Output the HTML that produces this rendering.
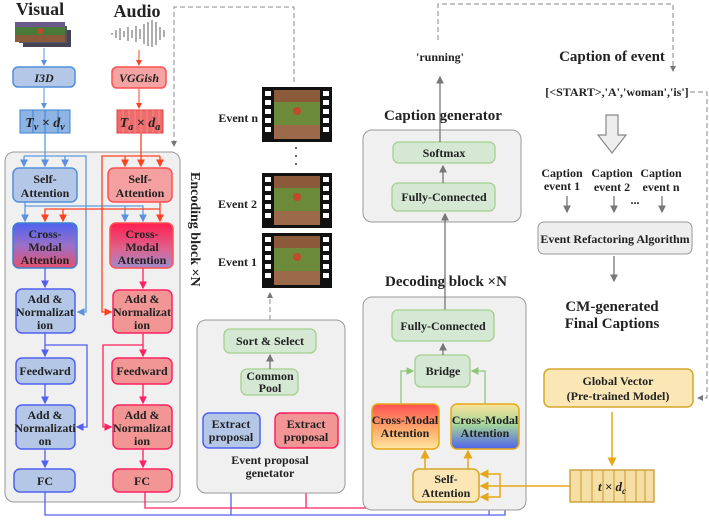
<!DOCTYPE html>
<html><head><meta charset="utf-8"><style>
body{margin:0;background:#fff}
svg text{font-family:"Liberation Serif",serif;font-weight:bold;fill:#222}
</style></head><body>
<svg width="709" height="518" viewBox="0 0 709 518" xmlns="http://www.w3.org/2000/svg">
<defs>
<linearGradient id="gL" x1="0" y1="0" x2="0" y2="1"><stop offset="0" stop-color="#4f63f0"/><stop offset="0.5" stop-color="#9a70c8"/><stop offset="1" stop-color="#e8506a"/></linearGradient>
<linearGradient id="gR" x1="0" y1="0" x2="0" y2="1"><stop offset="0" stop-color="#ff1e50"/><stop offset="0.55" stop-color="#e0608a"/><stop offset="1" stop-color="#a08ad0"/></linearGradient>
<linearGradient id="gD1" x1="0" y1="0" x2="0" y2="1"><stop offset="0" stop-color="#ff5050"/><stop offset="0.6" stop-color="#ffb070"/><stop offset="1" stop-color="#fde6a0"/></linearGradient>
<linearGradient id="gD2" x1="0" y1="0" x2="0" y2="1"><stop offset="0" stop-color="#fbe39a"/><stop offset="0.45" stop-color="#a6d79a"/><stop offset="1" stop-color="#4e63ea"/></linearGradient>
<marker id="aB" markerWidth="6" markerHeight="6" refX="5" refY="3" orient="auto"><path d="M0,0L6,3L0,6z" fill="#5b8fe0"/></marker>
<marker id="aV" markerWidth="6" markerHeight="6" refX="5" refY="3" orient="auto"><path d="M0,0L6,3L0,6z" fill="#5060f0"/></marker>
<marker id="aR" markerWidth="6" markerHeight="6" refX="5" refY="3" orient="auto"><path d="M0,0L6,3L0,6z" fill="#ff4020"/></marker>
<marker id="aP" markerWidth="6" markerHeight="6" refX="5" refY="3" orient="auto"><path d="M0,0L6,3L0,6z" fill="#ff2060"/></marker>
<marker id="aG" markerWidth="6" markerHeight="6" refX="5" refY="3" orient="auto"><path d="M0,0L6,3L0,6z" fill="#777"/></marker>
<marker id="aGr" markerWidth="6" markerHeight="6" refX="5" refY="3" orient="auto"><path d="M0,0L6,3L0,6z" fill="#8cc87a"/></marker>
<marker id="aY" markerWidth="6" markerHeight="6" refX="5" refY="3" orient="auto"><path d="M0,0L6,3L0,6z" fill="#e6a817"/></marker>
<g id="film">
<rect x="0" y="0" width="70" height="55" fill="#111"/>
<rect x="12" y="3" width="46" height="49" fill="#6b8a3a"/>
<rect x="12" y="3" width="46" height="12" fill="#8a5a3a"/>
<rect x="12" y="38" width="46" height="14" fill="#9a6a4a"/>
<circle cx="35" cy="24" r="4" fill="#c04a2a"/>
<g fill="#fff"><rect x="3" y="4" width="6" height="5"/><rect x="3" y="13" width="6" height="5"/><rect x="3" y="22" width="6" height="5"/><rect x="3" y="31" width="6" height="5"/><rect x="3" y="40" width="6" height="5"/>
<rect x="61" y="4" width="6" height="5"/><rect x="61" y="13" width="6" height="5"/><rect x="61" y="22" width="6" height="5"/><rect x="61" y="31" width="6" height="5"/><rect x="61" y="40" width="6" height="5"/></g>
</g>
</defs>

<path d="M294,82V7H174V146" fill="none" stroke="#888" stroke-dasharray="5,3" marker-end="url(#aG)"/>
<path d="M438,40V4H673V71" fill="none" stroke="#888" stroke-dasharray="5,3" marker-end="url(#aG)"/>
<path d="M690,92H707V398H698" fill="none" stroke="#888" stroke-dasharray="5,3" marker-end="url(#aG)"/>

<text x="40" y="15" font-size="18" text-anchor="middle">Visual</text>
<text x="137" y="17" font-size="18" text-anchor="middle">Audio</text>
<rect x="23" y="30" width="48" height="17" fill="#445"/>
<rect x="19" y="26" width="48" height="17" fill="#556"/>
<rect x="15" y="22" width="50" height="20" fill="#4a7a3a"/>
<rect x="15" y="22" width="50" height="5" fill="#6a5a8a"/>
<rect x="15" y="35" width="50" height="7" fill="#8a5a3a"/>
<circle cx="40" cy="31" r="3" fill="#c04a2a"/>
<g stroke="#777" stroke-width="1.2">
<path d="M112,33V35M116,30V38M120,28V40M124,31V37M128,27V41M132,30V38M136,26V42M140,29V39M144,24V44M148,22V46M152,20V47M156,22V45M160,27V40M164,30V37"/></g>

<rect x="5" y="152" width="175" height="350" rx="9" fill="#f0f0f0" stroke="#999"/>
<text transform="translate(191,172) rotate(90)" font-size="14">Encoding block ×N</text>

<g font-size="12" text-anchor="middle">
<rect x="13" y="67" width="62" height="20" rx="5" fill="#b4c7e7" stroke="#4f8fdc" stroke-width="1.5"/>
<text x="44" y="82" font-style="italic">I3D</text>
<rect x="112" y="67" width="54" height="21" rx="5" fill="#f6a3a3" stroke="#ff5050" stroke-width="1.5"/>
<text x="139" y="82" font-style="italic">VGGish</text>
<rect x="20" y="110" width="50" height="23" fill="#8db4e2" stroke="#3a80d0"/>
<path d="M33,110V133M45,110V133M58,110V133" stroke="#3a80d0"/>
<text x="45" y="127" font-size="14" font-style="italic">T<tspan font-size="10" dy="3">v</tspan><tspan dy="-3"> × d</tspan><tspan font-size="10" dy="3">v</tspan></text>
<rect x="117" y="110" width="46" height="23" fill="#ef6c6c" stroke="#e04040"/>
<path d="M123,110V133M129,110V133M135,110V133M141,110V133M147,110V133M153,110V133M159,110V133" stroke="#f08a8a"/>
<text x="140" y="127" font-size="14" font-style="italic">T<tspan font-size="10" dy="3">a</tspan><tspan dy="-3"> × d</tspan><tspan font-size="10" dy="3">a</tspan></text>
</g>
<path d="M44,48V65" stroke="#5b8fe0" marker-end="url(#aB)"/>
<path d="M44,88V108" stroke="#5b8fe0" marker-end="url(#aB)"/>
<path d="M139,50V65" stroke="#ff4020" marker-end="url(#aR)"/>
<path d="M139,89V108" stroke="#ff4020" marker-end="url(#aR)"/>

<g fill="none" stroke="#5b9be0" stroke-width="1.3">
<path d="M45,133V166" marker-end="url(#aB)"/>
<path d="M24,156H86V312H78" marker-end="url(#aB)"/>
<path d="M24,156V166" marker-end="url(#aB)"/>
<path d="M65,156V166" marker-end="url(#aB)"/>
<path d="M25,202V221" marker-end="url(#aB)"/>
<path d="M25,206H143V221" marker-end="url(#aB)"/>
<path d="M125,206V221" marker-end="url(#aB)"/>
</g>
<g fill="none" stroke="#ff4020" stroke-width="1.3">
<path d="M141,133V166" marker-end="url(#aR)"/>
<path d="M160,156H102V312H111" marker-end="url(#aR)"/>
<path d="M125,156V166" marker-end="url(#aR)"/>
<path d="M160,156V166" marker-end="url(#aR)"/>
<path d="M160,202V221" marker-end="url(#aR)"/>
<path d="M160,209H45V221" marker-end="url(#aR)"/>
<path d="M63,209V221" marker-end="url(#aR)"/>
</g>
<g fill="none" stroke="#5060f0" stroke-width="1.3">
<path d="M45,268V287" marker-end="url(#aV)"/>
<path d="M45,333V356" marker-end="url(#aV)"/>
<path d="M45,345H87V427H77" marker-end="url(#aV)"/>
<path d="M45,384V403" marker-end="url(#aV)"/>
<path d="M45,449V467" marker-end="url(#aV)"/>
<path d="M45,492V515H505V451" marker-end="url(#aV)"/>
<path d="M489,515V451" marker-end="url(#aV)"/>
<path d="M231,515V450" marker-end="url(#aV)"/>
<path d="M231,413V383H239" marker-end="url(#aV)"/>
</g>
<g fill="none" stroke="#ff2060" stroke-width="1.3">
<path d="M143,268V288" marker-end="url(#aP)"/>
<path d="M143,333V356" marker-end="url(#aP)"/>
<path d="M143,345H103V427H111" marker-end="url(#aP)"/>
<path d="M143,384V403" marker-end="url(#aP)"/>
<path d="M143,449V467" marker-end="url(#aP)"/>
<path d="M145,492V508H403V451" marker-end="url(#aP)"/>
<path d="M386,508V451" marker-end="url(#aP)"/>
<path d="M306,508V450" marker-end="url(#aP)"/>
<path d="M310,413V383H300" marker-end="url(#aP)"/>
</g>

<g font-size="12" text-anchor="middle">
<rect x="13" y="168" width="64" height="34" rx="6" fill="#b4c7e7" stroke="#4f8fdc" stroke-width="1.5"/>
<text x="45" y="183">Self-</text><text x="45" y="197">Attention</text>
<rect x="108" y="168" width="64" height="34" rx="6" fill="#f4a0a0" stroke="#ff5050" stroke-width="1.5"/>
<text x="140" y="183">Self-</text><text x="140" y="197">Attention</text>
<rect x="13" y="223" width="64" height="45" rx="6" fill="url(#gL)" stroke="#3a80d0" stroke-width="1.5"/>
<text x="45" y="238">Cross-</text><text x="45" y="251">Modal</text><text x="45" y="264">Attention</text>
<rect x="110" y="223" width="63" height="45" rx="6" fill="url(#gR)" stroke="#ff5050" stroke-width="1.5"/>
<text x="142" y="238">Cross-</text><text x="142" y="251">Modal</text><text x="142" y="264">Attention</text>
<rect x="16" y="289" width="59" height="44" rx="6" fill="#b4c7e7" stroke="#5060f0" stroke-width="1.5"/>
<text x="45" y="303">Add &amp;</text><text x="45" y="316">Normalizat</text><text x="45" y="329">ion</text>
<rect x="113" y="290" width="59" height="43" rx="6" fill="#f19595" stroke="#ff2060" stroke-width="1.5"/>
<text x="142" y="303">Add &amp;</text><text x="142" y="316">Normalizat</text><text x="142" y="329">ion</text>
<rect x="16" y="358" width="59" height="26" rx="6" fill="#b4c7e7" stroke="#5060f0" stroke-width="1.5"/>
<text x="45" y="375">Feedward</text>
<rect x="112" y="358" width="60" height="26" rx="6" fill="#f19595" stroke="#ff2060" stroke-width="1.5"/>
<text x="142" y="375">Feedward</text>
<rect x="16" y="405" width="59" height="44" rx="6" fill="#b4c7e7" stroke="#5060f0" stroke-width="1.5"/>
<text x="45" y="419">Add &amp;</text><text x="45" y="432">Normalizati</text><text x="45" y="445">on</text>
<rect x="113" y="405" width="59" height="44" rx="6" fill="#f19595" stroke="#ff2060" stroke-width="1.5"/>
<text x="142" y="419">Add &amp;</text><text x="142" y="432">Normalizat</text><text x="142" y="445">ion</text>
<rect x="14" y="469" width="61" height="23" rx="6" fill="#b4c7e7" stroke="#5060f0" stroke-width="1.5"/>
<text x="45" y="485">FC</text>
<rect x="113" y="469" width="59" height="23" rx="6" fill="#f19595" stroke="#ff2060" stroke-width="1.5"/>
<text x="142" y="485">FC</text>
</g>

<use href="#film" x="262" y="87"/>
<use href="#film" x="262" y="173"/>
<use href="#film" x="262" y="233"/>
<g font-size="12" text-anchor="end">
<text x="258" y="122">Event n</text>
<text x="257" y="208">Event 2</text>
<text x="257" y="266">Event 1</text>
</g>
<text x="296" y="152" font-size="12" text-anchor="middle">·</text>
<text x="296" y="160" font-size="12" text-anchor="middle">·</text>
<text x="296" y="168" font-size="12" text-anchor="middle">·</text>
<path d="M270,320V293" stroke="#888" stroke-dasharray="5,3" marker-end="url(#aG)"/>

<rect x="197" y="320" width="148" height="173" rx="9" fill="#f0f0f0" stroke="#999"/>
<g font-size="12" text-anchor="middle">
<rect x="224" y="329" width="92" height="24" rx="6" fill="#d5e8d4" stroke="#a3d08c" stroke-width="1.3"/>
<text x="270" y="345">Sort &amp; Select</text>
<rect x="241" y="369" width="57" height="26" rx="6" fill="#d5e8d4" stroke="#a3d08c" stroke-width="1.3"/>
<text x="270" y="380">Common</text><text x="270" y="392">Pool</text>
<rect x="203" y="413" width="57" height="35" rx="6" fill="#b4c7e7" stroke="#5060f0" stroke-width="1.5"/>
<text x="231" y="428">Extract</text><text x="231" y="441">proposal</text>
<rect x="275" y="413" width="63" height="35" rx="6" fill="#f19595" stroke="#ff2060" stroke-width="1.5"/>
<text x="306" y="428">Extract</text><text x="306" y="441">proposal</text>
<text x="270" y="464">Event proposal</text><text x="270" y="477">genetator</text>
</g>
<path d="M270,369V355" stroke="#777" stroke-width="1.3" marker-end="url(#aG)"/>

<text x="440" y="61" font-size="12" text-anchor="middle">'running'</text>
<text x="443" y="120" font-size="15" text-anchor="middle">Caption generator</text>
<rect x="363" y="130" width="158" height="92" rx="9" fill="#f0f0f0" stroke="#999"/>
<rect x="393" y="142" width="102" height="21" rx="6" fill="#d5e8d4" stroke="#a3d08c" stroke-width="1.3"/>
<text x="444" y="157" font-size="12" text-anchor="middle">Softmax</text>
<rect x="392" y="183" width="103" height="28" rx="6" fill="#d5e8d4" stroke="#a3d08c" stroke-width="1.3"/>
<text x="444" y="201" font-size="12" text-anchor="middle">Fully-Connected</text>
<path d="M440,142V77" stroke="#777" stroke-width="1.3" marker-end="url(#aG)"/>
<path d="M443,183V166" stroke="#777" stroke-width="1.3" marker-end="url(#aG)"/>

<text x="446" y="286" font-size="15" text-anchor="middle">Decoding block ×N</text>
<rect x="363" y="297" width="163" height="213" rx="9" fill="#f0f0f0" stroke="#999"/>
<path d="M445,310V214" stroke="#777" stroke-width="1.3" marker-end="url(#aG)"/>
<g font-size="12" text-anchor="middle">
<rect x="392" y="310" width="102" height="31" rx="6" fill="#d5e8d4" stroke="#a3d08c" stroke-width="1.3"/>
<text x="443" y="330">Fully-Connected</text>
<rect x="415" y="355" width="55" height="32" rx="6" fill="#d5e8d4" stroke="#a3d08c" stroke-width="1.3"/>
<text x="443" y="375">Bridge</text>
<rect x="372" y="404" width="67" height="45" rx="6" fill="url(#gD1)" stroke="#e6a817" stroke-width="1.5"/>
<text x="405" y="424">Cross-Modal</text><text x="405" y="437">Attention</text>
<rect x="451" y="404" width="68" height="45" rx="6" fill="url(#gD2)" stroke="#e6a817" stroke-width="1.5"/>
<text x="485" y="424">Cross-Modal</text><text x="485" y="437">Attention</text>
<rect x="413" y="469" width="66" height="33" rx="6" fill="#fbe7b5" stroke="#d6a62a" stroke-width="1.5"/>
<text x="446" y="483">Self-</text><text x="446" y="497">Attention</text>
</g>
<path d="M443,355V344" stroke="#777" stroke-width="1.3" marker-end="url(#aG)"/>
<g fill="none" stroke="#8cc87a" stroke-width="1.3">
<path d="M401,404V371H413" marker-end="url(#aGr)"/>
<path d="M485,404V371H472" marker-end="url(#aGr)"/>
</g>
<g fill="none" stroke="#e6a817" stroke-width="1.5">
<path d="M425,469V451" marker-end="url(#aY)"/>
<path d="M468,469V451" marker-end="url(#aY)"/>
<path d="M570,486H481" marker-end="url(#aY)"/>
<path d="M500,486V474H481" marker-end="url(#aY)"/>
<path d="M500,486V497H481" marker-end="url(#aY)"/>
<path d="M612,412V465" marker-end="url(#aY)"/>
</g>

<text x="612" y="61" font-size="15" text-anchor="middle">Caption of event</text>
<text x="617" y="96" font-size="12" text-anchor="middle">[&lt;START&gt;,'A','woman','is']</text>
<path d="M606,115h12v20h8l-14,18l-14,-18h8z" fill="#eee" stroke="#888" stroke-width="1.2"/>
<g font-size="12" text-anchor="middle">
<text x="562" y="177">Caption</text><text x="562" y="190">event 1</text>
<text x="612" y="177">Caption</text><text x="612" y="191">event 2</text>
<text x="661" y="177">Caption</text><text x="661" y="191">event n</text>
<text x="635" y="204">...</text>
</g>
<g stroke="#777" stroke-width="1.3">
<path d="M567,196V212" marker-end="url(#aG)"/>
<path d="M614,196V212" marker-end="url(#aG)"/>
<path d="M662,196V212" marker-end="url(#aG)"/>
<path d="M614,256V281" marker-end="url(#aG)"/>
</g>
<rect x="538" y="222" width="154" height="32" rx="6" fill="#eee" stroke="#999"/>
<text x="615" y="243" font-size="12" text-anchor="middle">Event Refactoring Algorithm</text>
<text x="612" y="311" font-size="15" text-anchor="middle">CM-generated</text>
<text x="612" y="328" font-size="15" text-anchor="middle">Final Captions</text>
<rect x="544" y="369" width="149" height="38" rx="6" fill="#fbe7b5" stroke="#d6a62a" stroke-width="1.5"/>
<text x="618" y="385" font-size="12" text-anchor="middle">Global Vector</text>
<text x="618" y="400" font-size="12" text-anchor="middle">(Pre-trained Model)</text>
<rect x="570" y="470" width="84" height="32" fill="#f5dfa5" stroke="#c9982a" stroke-width="1.3"/>
<path d="M581,470V502M592,470V502M603,470V502M614,470V502M625,470V502M636,470V502M645,470V502" stroke="#c9982a"/>
<text x="612" y="491" font-size="13" text-anchor="middle" font-style="italic">t × d<tspan font-size="9" dy="3">c</tspan></text>
</svg>
</body></html>
